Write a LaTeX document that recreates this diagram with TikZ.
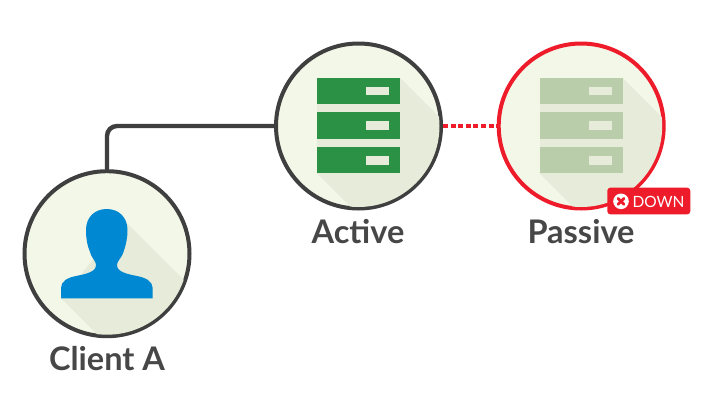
\documentclass[tikz,border=0pt]{standalone}
\usepackage{fontspec}
\setmainfont{Lato}
\definecolor{ring}{HTML}{3F3F3F}
\definecolor{disc}{HTML}{F3F7E7}
\definecolor{shadowc}{HTML}{E6ECD9}
\definecolor{green1}{HTML}{2A9145}
\definecolor{green2}{HTML}{BACDAB}
\definecolor{redc}{HTML}{EE1C2B}
\definecolor{blue1}{HTML}{0088D2}
\definecolor{txt}{HTML}{474747}
\tikzset{
  hub/.style={circle,minimum size=165pt,inner sep=0pt,line width=4pt,fill=disc},
  lbl/.style={text=txt,font=\fontsize{32.5}{34}\selectfont\bfseries,inner sep=0pt,anchor=base},
  link/.style={line width=4.4pt,draw=ring,rounded corners=10pt},
  downlink/.style={line width=4pt,draw=redc,dash pattern=on 5pt off 2.6pt},
}
\newcommand{\srv}[3]{% center x, bar colour, slot colour
  \begin{scope}
    \clip (#1,126) circle (81pt);
    \fill[shadowc] (#1+41.3,77.7) -- (#1+141.3,177.7) -- (#1+141.3,273.3) -- (#1+58.3,273.3) -- (#1-41.7,173.3) -- cycle;
  \end{scope}
  \fill[shadowc] (#1-41.7,100) rectangle (#1+41.3,150);
  \foreach \yy in {77.7,112.3,146.9}{
    \fill[#2] (#1-41.7,\yy) rectangle (#1+41.3,\yy+26.4);
    \fill[#3] (#1+7.7,\yy+9) rectangle (#1+30.9,\yy+17.6);
  }
}
\begin{document}
\begin{tikzpicture}[x=1pt,y=-1pt]
\useasboundingbox (0,0) rectangle (726,407);
\fill[white] (0,0) rectangle (726,407);
\node[hub,draw=ring] (active) at (358.5,126) {};
\node[hub,draw=redc] (passive) at (581.2,126) {};
\node[hub,draw=ring] (client) at (107,253.7) {};
\draw[link] (client.north) |- (active.west);
\draw[downlink] (active.east) -- (passive.west);
\srv{358.5}{green1}{shadowc}
\srv{581.2}{green2}{shadowc}
% client figure
\begin{scope}
  \clip (107,253.7) circle (81pt);
  \fill[shadowc] (125,221) -- (225,321) -- (225,400) -- (163,400) -- (61,298.3) -- cycle;
\end{scope}
\fill[blue1] (61,298.3) -- (61,288)
  .. controls (61,281) and (68,277.5) .. (76,276)
  .. controls (86,274) and (96,272) .. (96,265)
  .. controls (96,261) and (92,259) .. (90,252)
  .. controls (87,245) and (86,238) .. (86,230)
  .. controls (86,217) and (95,209) .. (106.7,209)
  .. controls (118.5,209) and (127.5,217) .. (127.5,230)
  .. controls (127.5,238) and (126,245) .. (123.5,252)
  .. controls (121,259) and (117,261) .. (117,265)
  .. controls (117,272) and (127,274) .. (137,276)
  .. controls (145,277.5) and (152.7,281) .. (152.7,288)
  -- (152.7,298.3) -- cycle;
\node[lbl] (lblactive) at (358,243) {Active};
\node[lbl] (lblpassive) at (581,243) {Passive};
\node[lbl] (lblclient) at (107,370) {Client A};
% badge
\node[fill=redc,rounded corners=3pt,minimum width=83pt,minimum height=26.6pt,inner sep=0pt] (badge) at (648.8,201) {};
\fill[white] (621,201.3) circle (7.8pt);
\draw[redc,line width=2.8pt,line cap=round] (618,198.3) -- (624,204.3) (624,198.3) -- (618,204.3);
\node[text=white,font=\fontsize{15.5}{16}\selectfont,inner sep=0pt,anchor=base] (downlbl) at (658.5,207) {DOWN};
\end{tikzpicture}
\end{document}
